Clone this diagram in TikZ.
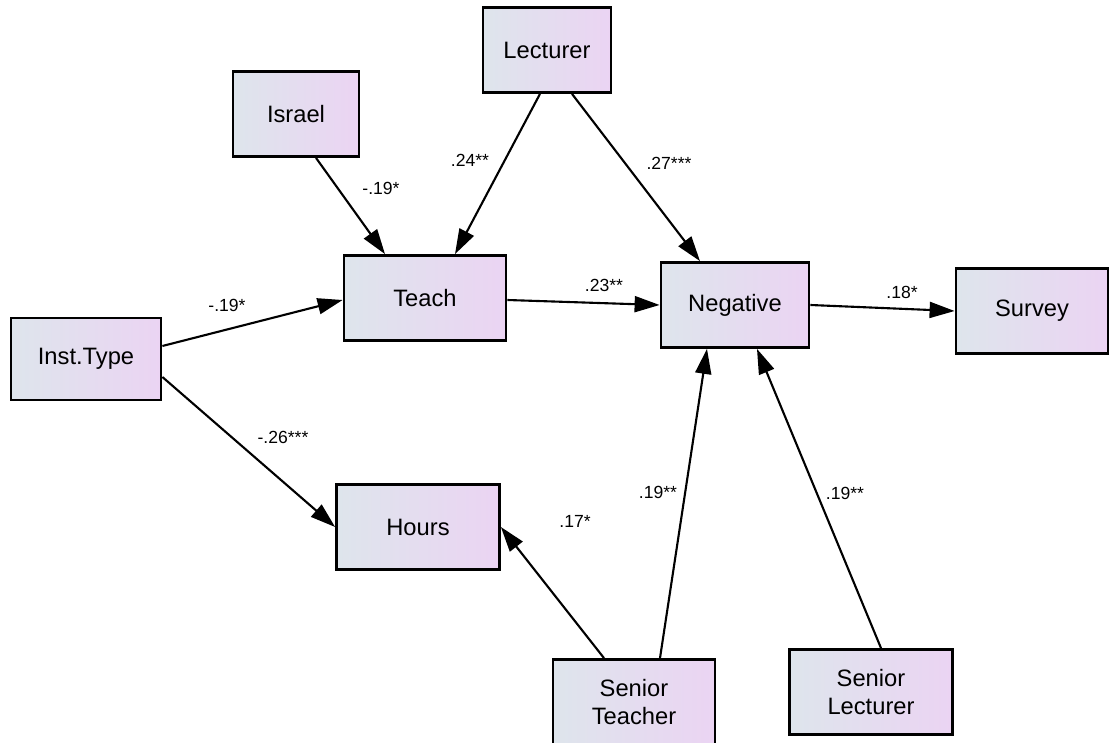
\documentclass[tikz,border=0pt]{standalone}
\usepackage{fontspec}
\setmainfont{Liberation Sans}
\usepackage{xcolor}
\usepackage{tikz}
\usetikzlibrary{arrows.meta,positioning,calc}
\definecolor{boxblue}{RGB}{222,229,236}
\definecolor{boxpink}{RGB}{235,212,243}

\begin{document}
\begin{tikzpicture}[x=0.02cm,y=-0.02cm,
    var/.style={draw=black,line width=1.6pt,left color=boxblue,right color=boxpink,
        minimum height=1.7cm,align=center,font=\fontsize{13.5}{16}\selectfont},
    effect/.style={-{Triangle[length=0.5cm,width=0.32cm]},line width=1.2pt},
    coef/.style={font=\fontsize{10}{12}\selectfont}]
    \useasboundingbox (0,0) rectangle (1110,743);

    % Observed variables
    \node[var,minimum width=2.56cm] (lecturer) at (547,50) {Lecturer};
    \node[var,minimum width=2.52cm] (israel) at (296,114) {Israel};
    \node[var,minimum width=3.24cm] (teach) at (425,298) {Teach};
    \node[var,minimum width=2.96cm] (negative) at (735,305) {Negative};
    \node[var,minimum width=3.04cm] (survey) at (1032,311) {Survey};
    \node[var,minimum width=3.0cm,minimum height=1.64cm] (insttype) at (86,359) {Inst.Type};
    \node[var,minimum width=3.26cm] (hours) at (418,527) {Hours};
    \node[var,minimum width=3.24cm] (srteacher) at (634,702) {Senior\\Teacher};
    \node[var,minimum width=3.26cm] (srlecturer) at (871,692) {Senior\\Lecturer};

    % Paths
    \draw[effect] ($(israel.south)+(20,0)$) -- ($(teach.north)+(-40,0)$);
    \draw[effect] ($(lecturer.south)+(-7,0)$) -- ($(teach.north)+(30,0)$);
    \draw[effect] ($(lecturer.south)+(25,0)$) -- ($(negative.north)+(-35,0)$);
    \draw[effect] ($(insttype.east)+(0,-13)$) -- ($(teach.west)+(0,2)$);
    \draw[effect] ($(insttype.east)+(0,18)$) -- (hours.west);
    \draw[effect] ($(teach.east)+(0,2)$) -- (negative.west);
    \draw[effect] (negative.east) -- (survey.west);
    \draw[effect] ($(srteacher.north)+(-30,0)$) -- (hours.east);
    \draw[effect] ($(srteacher.north)+(26,0)$) -- ($(negative.south)+(-28,0)$);
    \draw[effect] ($(srlecturer.north)+(10,0)$) -- ($(negative.south)+(22,0)$);

    % Coefficients
    \node[coef] (c1) at (381,188) {-.19*};
    \node[coef] (c2) at (470,160) {.24**};
    \node[coef] (c3) at (669,163) {.27***};
    \node[coef] (c4) at (227,305) {-.19*};
    \node[coef] (c5) at (604,285) {.23**};
    \node[coef] (c6) at (902,292) {.18*};
    \node[coef] (c7) at (283,437) {-.26***};
    \node[coef] (c8) at (658,492) {.19**};
    \node[coef] (c9) at (845,493) {.19**};
    \node[coef] (c10) at (575,521) {.17*};
\end{tikzpicture}
\end{document}
